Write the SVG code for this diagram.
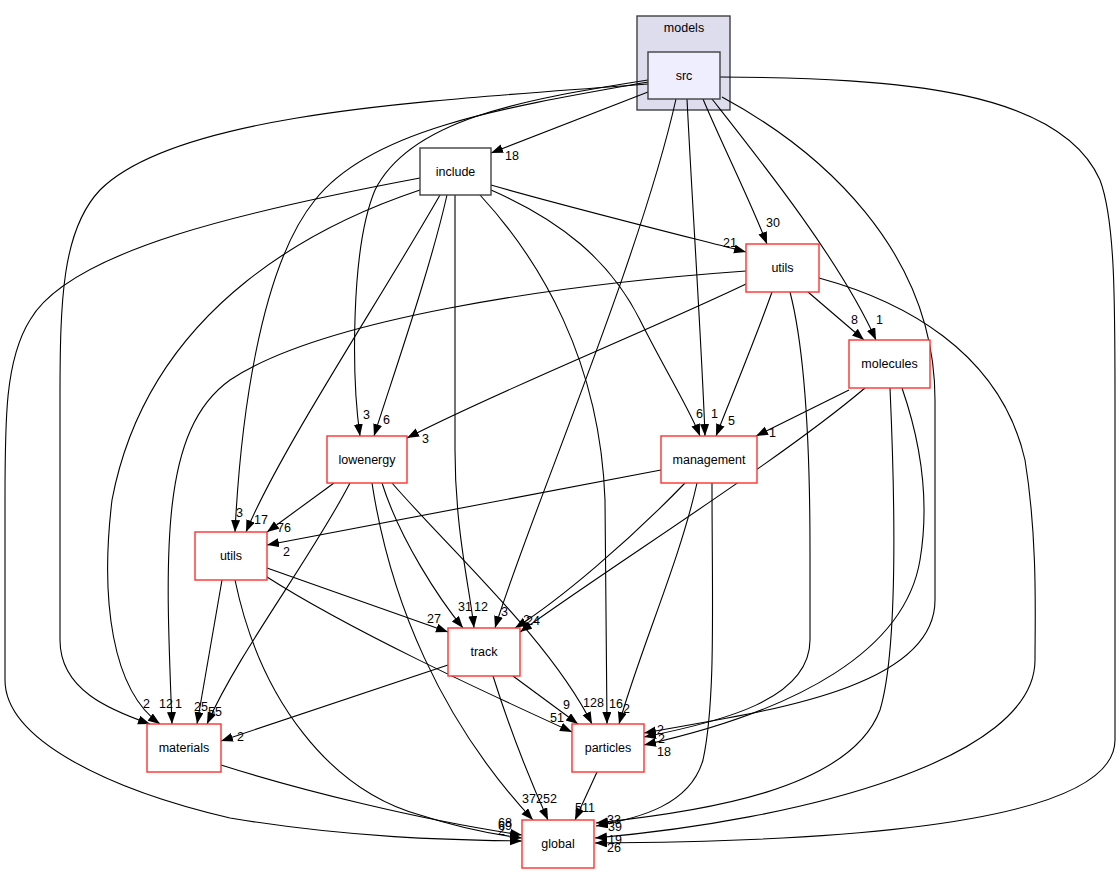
<svg xmlns="http://www.w3.org/2000/svg" width="1120" height="873" viewBox="0 0 1120 873">
<defs>
<style>
.e{fill:none;stroke:#000;stroke-width:1.1;marker-end:url(#ah)}
.n{fill:#fff;stroke:#ff3030;stroke-width:1.4}
.b{stroke:#404040;stroke-width:1.4}
text{font-family:"Liberation Sans",Arial,sans-serif;font-size:12.5px;fill:#000}
.c{text-anchor:middle}
</style>
<marker id="ah" markerWidth="13" markerHeight="10" refX="12" refY="4.5" orient="auto" markerUnits="userSpaceOnUse"><path d="M0,0 L12,4.5 L0,9 z" fill="#000"/></marker>
</defs>
<rect width="1120" height="873" fill="#fff"/>
<g id="cluster_models">
<rect x="637" y="16" width="93" height="94" fill="#ddddee" class="b"/>
<text x="684" y="32" class="c">models</text>
</g>
<g id="edges">
<path class="e" d="M648,92 L491,153"/>
<path class="e" d="M703,99 C720,140 750,200 767,244"/>
<path class="e" d="M712,99 C760,160 840,260 876,340"/>
<path class="e" d="M687,99 C692,200 702,350 705,436"/>
<path class="e" d="M676,99 C640,260 528,520 495,628"/>
<path class="e" d="M648,80 C520,100 410,120 375,190 C350,250 352,380 360,436"/>
<path class="e" d="M648,82 C500,108 370,130 315,200 C258,270 240,430 235,532"/>
<path class="e" d="M648,84 C450,100 180,110 100,190 C62,230 60,300 60,400 L60,640 C60,690 110,710 150,724"/>
<path class="e" d="M720,77 C900,78 1060,90 1100,180 C1115,220 1115,300 1115,400 L1115,740 C1115,830 800,842 595,843"/>
<path class="e" d="M722,97 C820,150 935,250 935,400 L935,600 C935,690 760,712 644,733"/>
<path class="e" d="M491,185 C560,205 680,235 746,252"/>
<path class="e" d="M447,195 C430,270 395,370 374,436"/>
<path class="e" d="M440,195 C380,300 280,450 246,532"/>
<path class="e" d="M455,195 L455,450 C455,530 470,590 474,628"/>
<path class="e" d="M491,190 C560,220 610,260 640,320 C665,370 690,410 700,436"/>
<path class="e" d="M480,195 C540,260 600,360 605,500 L607,724"/>
<path class="e" d="M420,190 C330,220 150,300 112,500 C100,600 112,690 160,724"/>
<path class="e" d="M420,178 C250,210 70,250 30,320 C5,360 5,420 5,500 L5,680 C5,740 110,790 230,818 C350,838 450,840 522,841"/>
<path class="e" d="M746,284 C650,330 500,390 407,438"/>
<path class="e" d="M772,292 C755,340 730,400 716,436"/>
<path class="e" d="M808,292 L864,340"/>
<path class="e" d="M746,271 C550,285 320,320 230,380 C160,430 165,550 172,724"/>
<path class="e" d="M790,292 C805,350 810,450 810,550 L810,640 C810,700 720,722 644,737"/>
<path class="e" d="M819,278 C900,300 1000,350 1025,460 C1038,540 1035,620 1035,660 C1035,760 800,820 595,838"/>
<path class="e" d="M849,390 L756,436"/>
<path class="e" d="M865,388 C780,460 620,560 520,632"/>
<path class="e" d="M902,388 C920,440 930,500 920,560 C905,650 800,710 644,745"/>
<path class="e" d="M890,388 C895,500 898,650 880,710 C850,790 700,812 596,823"/>
<path class="e" d="M712,483 C712,600 716,700 703,760 C690,805 640,818 596,826"/>
<path class="e" d="M334,483 L267,532"/>
<path class="e" d="M350,483 C310,560 240,650 207,724"/>
<path class="e" d="M382,483 C400,540 440,600 463,628"/>
<path class="e" d="M392,483 C450,550 550,640 592,724"/>
<path class="e" d="M372,483 C390,600 440,720 533,820"/>
<path class="e" d="M661,470 L267,545"/>
<path class="e" d="M685,483 C630,540 560,600 515,628"/>
<path class="e" d="M697,483 C680,560 640,650 619,724"/>
<path class="e" d="M267,568 L448,632"/>
<path class="e" d="M222,580 L197,724"/>
<path class="e" d="M267,577 C350,630 480,690 572,732"/>
<path class="e" d="M235,580 C260,700 330,790 420,815 C460,828 490,834 522,838"/>
<path class="e" d="M448,665 L221,741"/>
<path class="e" d="M513,676 L578,724"/>
<path class="e" d="M493,676 C510,730 530,780 548,820"/>
<path class="e" d="M221,765 C300,790 420,820 522,835"/>
<path class="e" d="M597,772 L575,820"/>
</g>
<g id="edge_labels">
<text x="505" y="160">18</text>
<text x="766" y="227">30</text>
<text x="876" y="324">1</text>
<text x="711" y="418">1</text>
<text x="501" y="616">3</text>
<text x="363" y="419">3</text>
<text x="236" y="517">3</text>
<text x="143" y="708">2</text>
<text x="607" y="852">26</text>
<text x="657" y="734">2</text>
<text x="723" y="247">21</text>
<text x="383" y="424">6</text>
<text x="254" y="524">17</text>
<text x="474" y="611">12</text>
<text x="696" y="418">6</text>
<text x="609" y="708">16</text>
<text x="159" y="708">12</text>
<text x="498" y="827">68</text>
<text x="422" y="443">3</text>
<text x="728" y="425">5</text>
<text x="851" y="324">8</text>
<text x="175" y="708">1</text>
<text x="658" y="743">2</text>
<text x="608" y="844">19</text>
<text x="769" y="437">1</text>
<text x="526" y="625">24</text>
<text x="657" y="756">18</text>
<text x="607" y="824">33</text>
<text x="608" y="831">39</text>
<text x="277" y="532">76</text>
<text x="208" y="716">55</text>
<text x="458" y="611">31</text>
<text x="583" y="707">128</text>
<text x="522" y="803">372</text>
<text x="283" y="556">2</text>
<text x="523" y="624">2</text>
<text x="623" y="713">2</text>
<text x="427" y="623">27</text>
<text x="194" y="711">25</text>
<text x="550" y="722">51</text>
<text x="498" y="835">2</text>
<text x="237" y="741">2</text>
<text x="563" y="709">9</text>
<text x="543" y="803">52</text>
<text x="498" y="830">69</text>
<text x="575" y="812">511</text>
</g>
<g id="node_src"><rect x="648" y="52" width="72" height="47" fill="#eeeeff" class="b"/><text x="684" y="80" class="c">src</text></g>
<g id="node_include"><rect x="420" y="148" width="71" height="47" fill="#fff" class="b"/><text x="455.5" y="176" class="c">include</text></g>
<g id="node_utils_top"><rect x="746" y="244" width="73" height="48" class="n"/><text x="782.5" y="272" class="c">utils</text></g>
<g id="node_molecules"><rect x="849" y="340" width="81" height="48" class="n"/><text x="889.5" y="368" class="c">molecules</text></g>
<g id="node_lowenergy"><rect x="327" y="436" width="80" height="47" class="n"/><text x="367" y="464" class="c">lowenergy</text></g>
<g id="node_management"><rect x="661" y="436" width="96" height="47" class="n"/><text x="709" y="464" class="c">management</text></g>
<g id="node_utils_left"><rect x="195" y="532" width="72" height="48" class="n"/><text x="231" y="560" class="c">utils</text></g>
<g id="node_track"><rect x="448" y="628" width="72" height="48" class="n"/><text x="484" y="656" class="c">track</text></g>
<g id="node_materials"><rect x="147" y="724" width="74" height="48" class="n"/><text x="184" y="752" class="c">materials</text></g>
<g id="node_particles"><rect x="572" y="724" width="72" height="48" class="n"/><text x="608" y="752" class="c">particles</text></g>
<g id="node_global"><rect x="522" y="820" width="72" height="48" class="n"/><text x="558" y="848" class="c">global</text></g>
</svg>
